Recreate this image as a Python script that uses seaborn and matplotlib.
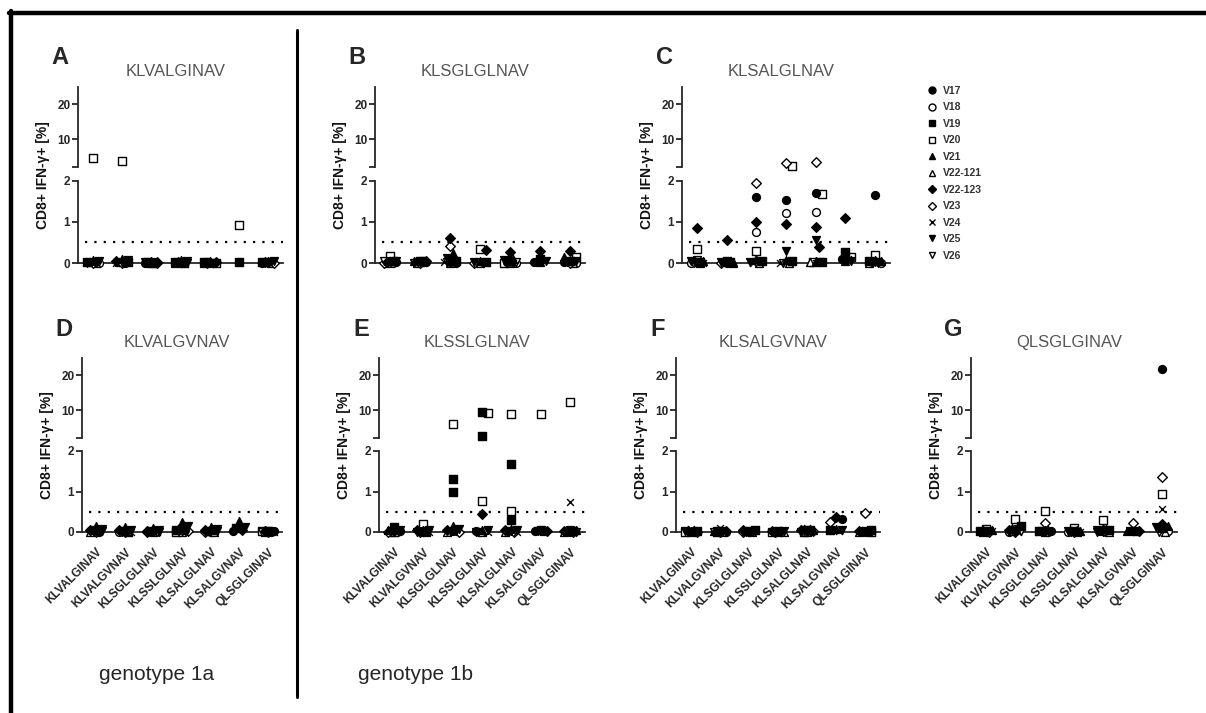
import numpy as np
import pandas as pd
import matplotlib.pyplot as plt
import seaborn as sns
from matplotlib.lines import Line2D

sns.set_theme(style='ticks')
plt.rcParams['font.family'] = ['Liberation Sans', 'DejaVu Sans']

nan = np.nan

# x categories (stimulating peptides)
peptides = ['KLVALGINAV', 'KLVALGVNAV', 'KLSGLGLNAV', 'KLSSLGLNAV',
            'KLSALGLNAV', 'KLSALGVNAV', 'QLSGLGINAV']
series = ['V17', 'V18', 'V19', 'V20', 'V21', 'V22-121', 'V22-123',
          'V23', 'V24', 'V25', 'V26']

# % CD8+ IFN-g+ per series (rows) and peptide (columns)
vals_A = [
    [0.02, 0.03, 0.01, 0.02, 0.01, nan, 0.02],
    [0.01, 0.00, 0.02, 0.00, 0.01, nan, 0.01],
    [0.03, 0.02, 0.01, 0.03, 0.02, 0.02, 0.03],
    [4.5, 3.7, 0.02, 0.00, 0.01, 0.93, 0.02],
    [0.08, 0.10, 0.05, 0.08, 0.04, nan, 0.06],
    [0.00, 0.02, 0.00, 0.01, 0.00, nan, 0.00],
    [0.02, 0.04, 0.03, 0.02, 0.03, nan, 0.02],
    [0.01, 0.00, 0.01, 0.02, 0.00, nan, 0.01],
    [0.02, 0.01, 0.00, 0.00, 0.02, nan, 0.00],
    [0.05, 0.08, 0.03, 0.06, 0.02, nan, 0.04],
    [0.01, 0.02, 0.00, 0.01, 0.00, nan, 0.01],
]
vals_B = [
    [0.02, 0.02, 0.03, 0.02, 0.02, 0.03, 0.02],
    [0.00, 0.03, 0.00, 0.02, 0.00, nan, 0.00],
    [0.04, 0.05, 0.05, 0.03, 0.06, 0.10, 0.05],
    [0.17, 0.02, 0.02, 0.35, 0.01, nan, 0.15],
    [0.05, 0.04, 0.25, 0.06, 0.10, 0.02, 0.15],
    [0.00, 0.00, 0.00, 0.01, 0.00, nan, 0.00],
    [0.03, 0.05, 0.62, 0.32, 0.28, 0.30, 0.30],
    [0.01, 0.00, 0.42, 0.00, 0.02, nan, 0.01],
    [0.02, 0.01, 0.03, 0.01, 0.00, nan, 0.02],
    [0.06, 0.04, 0.12, 0.03, 0.08, 0.05, 0.05],
    [0.05, 0.01, 0.02, 0.00, 0.03, nan, 0.02],
]
vals_C = [
    [0.02, 0.02, 1.62, 1.53, 1.70, 0.10, 1.67],
    [0.01, 0.00, 0.75, 1.22, 1.25, nan, 0.01],
    [0.03, 0.04, 0.05, 0.04, 0.03, 0.28, 0.04],
    [0.33, 0.02, 0.30, 2.35, 1.68, 0.15, 0.19],
    [0.05, 0.03, 0.10, 0.08, 0.05, 0.05, 0.06],
    [0.00, 0.01, 0.00, 0.00, 0.02, nan, 0.00],
    [0.85, 0.56, 0.99, 0.96, 0.87, 1.10, 0.04],
    [0.02, 0.00, 1.95, 3.2, 3.5, nan, 0.02],
    [0.01, 0.02, 0.00, 0.01, 0.00, 0.10, 0.01],
    [0.04, 0.03, 0.02, 0.30, 0.57, 0.05, 0.03],
    [0.08, 0.00, 0.02, 0.00, 0.02, nan, 0.00],
]
vals_D = [
    [0.03, 0.02, 0.02, 0.05, 0.02, 0.03, 0.02],
    [0.00, 0.01, 0.00, 0.02, 0.00, nan, 0.01],
    [0.04, 0.03, 0.02, 0.04, 0.05, 0.10, 0.03],
    [0.02, 0.00, 0.02, 0.01, 0.03, nan, 0.02],
    [0.15, 0.12, 0.10, 0.25, 0.12, 0.28, 0.02],
    [0.00, 0.02, 0.00, 0.00, 0.01, nan, 0.00],
    [0.04, 0.05, 0.03, 0.08, 0.05, 0.05, 0.02],
    [0.01, 0.00, 0.01, 0.02, 0.00, nan, 0.01],
    [0.00, 0.01, 0.00, 0.01, 0.00, nan, 0.00],
    [0.08, 0.06, 0.05, 0.15, 0.07, 0.12, 0.02],
    [0.02, 0.00, 0.01, 0.03, 0.02, nan, 0.00],
]
vals_E = [
    [0.02, 0.02, 0.03, 0.03, 0.02, 0.02, 0.02],
    [0.00, 0.01, 0.02, 0.01, 0.03, nan, 0.01],
    [0.12, 0.03, 1.30, 9.4, 1.67, 0.05, 0.03],
    [0.01, 0.20, 6.1, 9.3, 9.0, 9.0, 12.3],
    [0.05, 0.04, 0.15, 0.06, 0.08, 0.02, 0.04],
    [0.00, 0.00, 0.00, 0.01, 0.00, nan, 0.00],
    [0.03, 0.04, 0.05, 0.44, 0.04, 0.03, 0.03],
    [0.01, 0.00, 0.01, 0.02, 0.00, nan, 0.01],
    [0.02, 0.01, 0.00, 0.00, 0.01, nan, 0.74],
    [0.06, 0.05, 0.08, 0.04, 0.05, 0.02, 0.04],
    [0.02, 0.01, 0.03, 0.00, 0.02, nan, 0.01],
]
vals_F = [
    [0.02, 0.02, 0.03, 0.02, 0.03, 0.32, 0.02],
    [0.00, 0.01, 0.00, 0.01, 0.02, nan, 0.00],
    [0.03, 0.02, 0.04, 0.03, 0.05, 0.05, 0.04],
    [0.01, 0.00, 0.02, 0.00, 0.01, nan, 0.01],
    [0.02, 0.03, 0.02, 0.01, 0.06, 0.08, 0.02],
    [0.00, 0.00, 0.00, 0.01, 0.00, nan, 0.00],
    [0.02, 0.03, 0.04, 0.02, 0.05, 0.36, 0.03],
    [0.01, 0.00, 0.01, 0.00, 0.02, 0.25, 0.47],
    [0.08, 0.10, 0.05, 0.02, 0.10, 0.03, 0.06],
    [0.03, 0.02, 0.02, 0.03, 0.04, 0.06, 0.02],
    [0.00, 0.01, 0.00, 0.00, 0.01, nan, 0.00],
]
vals_G = [
    [0.02, 0.03, 0.02, 0.02, 0.03, 0.02, 21.7],
    [0.00, 0.01, 0.00, 0.01, 0.00, nan, 0.02],
    [0.03, 0.15, 0.03, 0.02, 0.05, 0.03, 0.10],
    [0.08, 0.31, 0.53, 0.10, 0.29, nan, 0.95],
    [0.04, 0.10, 0.05, 0.03, 0.10, 0.02, 0.15],
    [0.00, 0.02, 0.00, 0.00, 0.01, nan, 0.00],
    [0.02, 0.05, 0.03, 0.02, 0.04, 0.02, 0.20],
    [0.01, 0.00, 0.22, 0.00, 0.02, 0.21, 1.35],
    [0.02, 0.01, 0.00, 0.01, 0.00, nan, 0.58],
    [0.03, 0.08, 0.02, 0.03, 0.05, 0.02, 0.12],
    [0.01, 0.02, 0.00, 0.00, 0.01, nan, 0.01],
]
# replicate points (series, peptide index, value)
extra_C = [('V22-123', 4, 0.40), ('V20', 4, 0.02)]
extra_E = [('V19', 2, 1.00), ('V19', 3, 2.6), ('V20', 3, 0.77),
           ('V20', 4, 0.52), ('V19', 4, 0.29)]

panels = [
    ('A', 'KLVALGINAV', vals_A, [], 78, 283, 0),
    ('B', 'KLSGLGLNAV', vals_B, [], 375, 585, 0),
    ('C', 'KLSALGLNAV', vals_C, extra_C, 682, 890, 0),
    ('D', 'KLVALGVNAV', vals_D, [], 82, 282, 1),
    ('E', 'KLSSLGLNAV', vals_E, extra_E, 379, 585, 1),
    ('F', 'KLSALGVNAV', vals_F, [], 676, 880, 1),
    ('G', 'QLSGLGINAV', vals_G, [], 971, 1177, 1),
]

# marker, filled?
styles = {
    'V17': ('o', True), 'V18': ('o', False), 'V19': ('s', True),
    'V20': ('s', False), 'V21': ('^', True), 'V22-121': ('^', False),
    'V22-123': ('D', True), 'V23': ('D', False), 'V24': ('x', True),
    'V25': ('v', True), 'V26': ('v', False),
}

W, H = 1206, 713
# row geometry in pixels: upper top, upper bottom, lower top, zero line
rows = [(87, 167, 181, 263), (358, 438, 451, 532)]
SPLIT = 2.2


def y_px(v):
    return v * 41 if v <= SPLIT else 96 + (v - 2) * 3.5


def swarm(values, step=3.0, diam=7.5):
    # small beeswarm so overlapping points are pushed sideways
    res = np.zeros(len(values))
    placed = []
    cands = [0, step, -step, 2 * step, -2 * step]
    for i in np.argsort(-np.asarray(values)):
        y = y_px(values[i])
        best, bestd = 0, -1
        for c in cands:
            d = min([np.hypot(c - px, y - py) for px, py in placed], default=np.inf)
            if d >= diam:
                best = c
                break
            if d > bestd:
                best, bestd = c, d
        placed.append((best, y))
        res[i] = best
    return res


def px_axes(fig, x0, x1, ytop, ybot):
    return fig.add_axes([x0 / W, 1 - ybot / H, (x1 - x0) / W, (ybot - ytop) / H])


fig = plt.figure(figsize=(W / 100, H / 100), dpi=100)

# open symbols first so the filled ones sit on top in the crowded zero band
draw_order = [s for s in series if not styles[s][1]] + [s for s in series if styles[s][1]]

for letter, title, vals, extra, x0, x1, r in panels:
    utop, ubot, ltop, zero = rows[r]
    recs = []
    for si, s in enumerate(series):
        for ci in range(len(peptides)):
            if not np.isnan(vals[si][ci]):
                recs.append((s, ci, vals[si][ci]))
    recs += extra
    df = pd.DataFrame(recs, columns=['series', 'cat', 'value'])
    cat_px = (x1 - x0) / len(peptides)
    df['off'] = 0.0
    for ci, g in df.groupby('cat'):
        df.loc[g.index, 'off'] = swarm(g['value'].values)
    df['x'] = df['cat'] + df['off'] / cat_px

    ax_hi = px_axes(fig, x0, x1, utop, ubot)
    ax_lo = px_axes(fig, x0, x1, ltop, zero)

    for s in draw_order:
        m, filled = styles[s]
        d = df[df['series'] == s]
        for ax, part in ((ax_lo, d[d['value'] <= SPLIT]), (ax_hi, d[d['value'] > SPLIT])):
            if part.empty:
                continue
            if m == 'x':
                kw = dict(color='black', edgecolor='black', linewidth=1.0, s=24)
            else:
                kw = dict(facecolor='black' if filled else 'white',
                          edgecolor='black', linewidth=1.0,
                          s=24 if m == 'D' else 32)
            sns.scatterplot(x=part['x'].values, y=part['value'].values, ax=ax,
                            marker=m, clip_on=False, zorder=3, legend=False, **kw)

    ax_lo.axhline(0.5, xmin=0.035, xmax=1, color='black', lw=1.6,
                  ls=(0, (1, 3.2)), zorder=1)

    for ax in (ax_lo, ax_hi):
        ax.set_facecolor('none')
        ax.set_xlim(-0.5, len(peptides) - 0.5)
        sns.despine(ax=ax)
        for sp in ax.spines.values():
            sp.set_linewidth(1.3)
        ax.tick_params(axis='y', length=4, width=1.3, pad=1.5, labelsize=8.5)
        ax.tick_params(axis='x', length=0)

    ax_lo.set_ylim(0, 2)
    ax_lo.set_yticks([0, 1, 2])
    ax_lo.set_yticklabels(['0', '1', '2'], fontweight='bold')
    ax_hi.set_ylim(2, 25)
    ax_hi.set_yticks([2, 10, 20])
    ax_hi.set_yticklabels(['', '10', '20'], fontweight='bold')
    ax_hi.spines['bottom'].set_visible(False)
    ax_hi.set_xticks([])

    ax_lo.set_xticks(range(len(peptides)))
    if r == 1:
        ax_lo.set_xticklabels(peptides, rotation=45, ha='right',
                              rotation_mode='anchor', fontsize=8.5,
                              fontweight='bold')
        ax_lo.tick_params(axis='x', pad=10)
    else:
        ax_lo.set_xticklabels([])

    # labels around the panel
    fig.text((x0 - 35) / W, 1 - ((utop + zero) / 2) / H, 'CD8+ IFN-γ+ [%]',
             rotation=90, ha='center', va='center', fontsize=10,
             fontweight='bold', color='#111111')
    fig.text(((x0 + x1) / 2 - 5) / W, 1 - (utop - 15) / H, title,
             ha='center', va='center', fontsize=12, color='#555555')
    fig.text((x0 - 18) / W, 1 - (utop - 29) / H, letter, ha='center',
             va='center', fontsize=17, fontweight='bold')

# legend
handles = []
for s in series:
    m, filled = styles[s]
    handles.append(Line2D([], [], ls='none', marker=m,
                          markersize=4.2 if m == 'D' else 5,
                          markerfacecolor='black' if filled else 'white',
                          markeredgecolor='black', markeredgewidth=1.0))
fig.legend(handles, series, loc='upper left', bbox_to_anchor=(927 / W, 1 - 86 / H),
           frameon=False, handlelength=1.0, handletextpad=0.55, labelspacing=0.62,
           borderpad=0, borderaxespad=0,
           prop={'size': 7.5, 'weight': 'bold'}, labelcolor='#333333')

fig.text(157 / W, 1 - 675 / H, 'genotype 1a', ha='center', va='center', fontsize=15)
fig.text(415 / W, 1 - 675 / H, 'genotype 1b', ha='center', va='center', fontsize=15)

# frame lines of the figure
fig.add_artist(Line2D([9 / W, 1], [1 - 12.5 / H, 1 - 12.5 / H],
                      transform=fig.transFigure, color='black', lw=3.2))
fig.add_artist(Line2D([10.5 / W, 10.5 / W], [0, 1 - 11 / H],
                      transform=fig.transFigure, color='black', lw=3.2))
fig.add_artist(Line2D([297 / W, 297 / W], [1 - 30 / H, 1 - 697 / H],
                      transform=fig.transFigure, color='black', lw=2.2))

fig.savefig('out.png', dpi=100)
